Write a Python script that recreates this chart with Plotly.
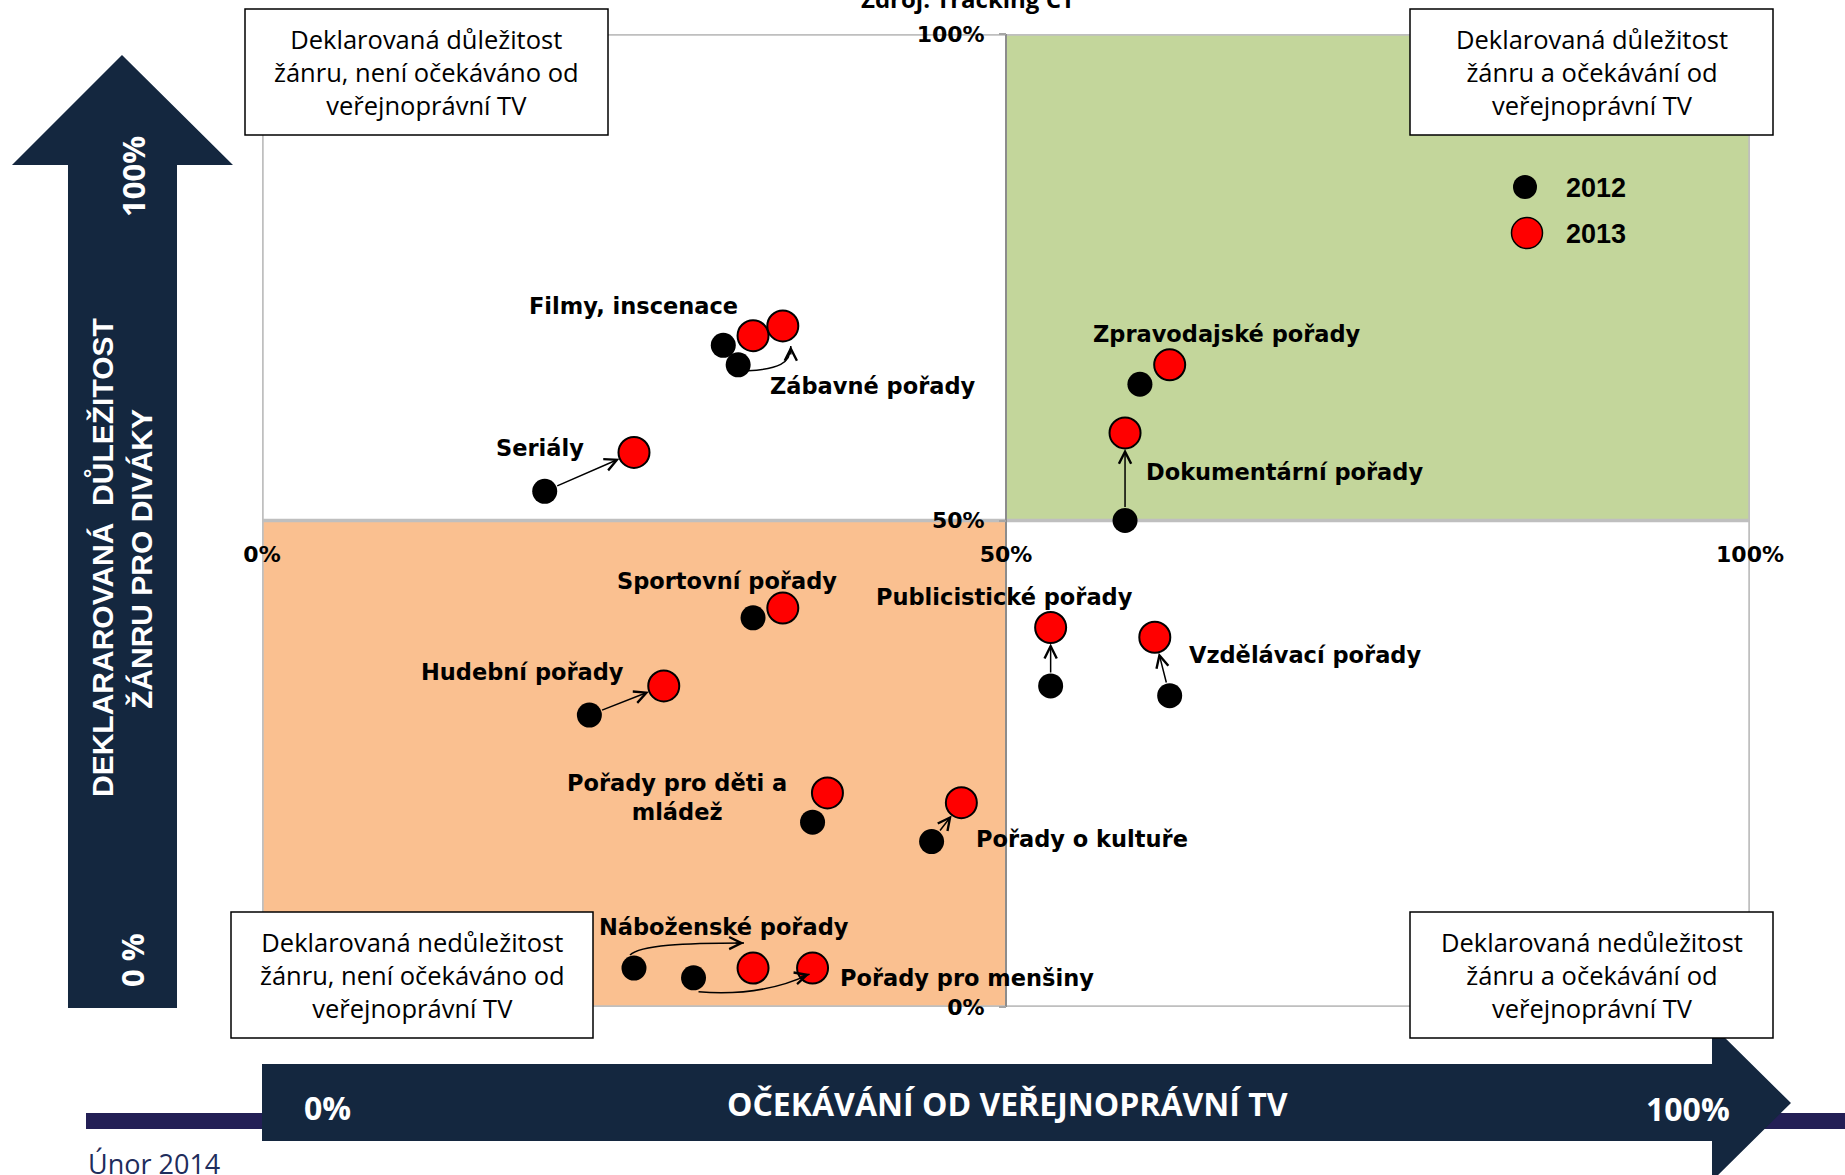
import plotly.graph_objects as go

# ---------------- data ----------------
categories = ["Filmy, inscenace", "Zábavné pořady", "Seriály", "Zpravodajské pořady",
              "Dokumentární pořady", "Sportovní pořady", "Hudební pořady",
              "Publicistické pořady", "Vzdělávací pořady", "Pořady pro děti a<br>mládež",
              "Pořady o kultuře", "Náboženské pořady", "Pořady pro menšiny"]
x_2012 = [31, 32, 19, 59, 58, 33, 22, 53, 61, 37, 45, 25, 29]
y_2012 = [68, 66, 53, 64, 50, 40, 30, 33, 32, 19, 17, 4, 3]
x_2013 = [33, 35, 25, 61, 58, 35, 27, 53, 60, 38, 47, 33, 37]
y_2013 = [69, 70, 57, 66, 59, 41, 33, 39, 38, 22, 21, 4, 4]
years = ["2012", "2013"]
tick_vals = [0, 50, 100]
tick_text = ["0%", "50%", "100%"]

# ---------------- styling / layout helpers ----------------
arrow_kind = ["none", "curve", "straight", "none", "straight", "none", "straight",
              "straight", "straight", "none", "straight", "curve", "curve"]
# label offsets in pixels relative to the 2013 marker (dx right, dy up)
label_dx = [-120, 90, -94, 57, 159, -56, -141, -46, 150, -150, 121, -29, 154]
label_dy = [30, -60, 4, 31, -39, 27, 14, 31, -18, -5, -36, 41, -10]
# curved connectors: start offset (from 2012 pt), c1 offset (from start), c2 offset (from end),
# end offset (from 2013 pt), arrow tail offset (px)   -- all px, y downwards
curve_spec = {
    1: ((10, 6), (30, -2), (0, 18), (8, 20), (0, 10)),
    11: ((-4, -13), (10, -10), (-60, 0), (-9, -25), (-10, 0)),
    12: ((5, 14), (50, 4), (-25, 12), (-3, 6), (-10, 3)),
}

W, H = 1845, 1175
ML, MR, MT, MB = 262, 95, 34, 168
PW, PH = W - ML - MR, H - MT - MB

NAVY = "#14273F"
LABEL_FONT = "DejaVu Sans"
BOX_FONT = "Open Sans"


def paper_x(px):
    return (px - ML) / PW


def paper_y(py):
    return (H - MB - py) / PH


def ux(px):
    return px * 100.0 / PW


def uy(py):
    return -py * 100.0 / PH


def poly(points):
    return "M" + " L".join(f"{paper_x(a):.5f},{paper_y(b):.5f}" for a, b in points) + " Z"


def ptext(cx, cy, text, size, color, family=BOX_FONT, angle=0, xanchor="center"):
    return dict(xref="paper", yref="paper", x=paper_x(cx), y=paper_y(cy), text=text,
                showarrow=False, xanchor=xanchor, yanchor="middle", align="center",
                textangle=angle, font=dict(family=family, size=size, color=color))


fig = go.Figure()

fig.add_trace(go.Scatter(x=x_2012, y=y_2012, mode="markers", name=years[0],
                         marker=dict(size=25, color="black"),
                         hoverinfo="skip", cliponaxis=False, showlegend=False))
fig.add_trace(go.Scatter(x=x_2013, y=y_2013, mode="markers", name=years[1],
                         marker=dict(size=31, color="#FF0000", line=dict(color="black", width=2)),
                         hoverinfo="skip", cliponaxis=False, showlegend=False))

shapes = []
# quadrant backgrounds
shapes.append(dict(type="rect", xref="x", yref="y", x0=50, x1=100, y0=50, y1=100,
                   fillcolor="#C3D69B", line=dict(width=0), layer="below"))
shapes.append(dict(type="rect", xref="x", yref="y", x0=0, x1=50, y0=0, y1=50,
                   fillcolor="#FAC090", line=dict(width=0), layer="below"))
# frame and cross lines
shapes.append(dict(type="rect", xref="x", yref="y", x0=0, x1=100, y0=0, y1=100,
                   line=dict(color="#BFBFBF", width=3.5), layer="below"))
shapes.append(dict(type="line", xref="x", yref="y", x0=0, x1=100, y0=50, y1=50,
                   line=dict(color="#BFBFBF", width=3.5), layer="below"))
shapes.append(dict(type="line", xref="x", yref="y", x0=50, x1=50, y0=0, y1=100,
                   line=dict(color="#8C8C8C", width=2), layer="below"))

# bottom strip and arrows
shapes.append(dict(type="rect", xref="paper", yref="paper",
                   x0=paper_x(86), x1=paper_x(1845), y0=paper_y(1129), y1=paper_y(1113),
                   fillcolor="#231F55", line=dict(width=0), layer="above"))
shapes.append(dict(type="path", xref="paper", yref="paper",
                   path=poly([(262, 1064), (1712, 1064), (1712, 1025), (1791, 1103),
                              (1712, 1181), (1712, 1141), (262, 1141)]),
                   fillcolor=NAVY, line=dict(width=0), layer="above"))
shapes.append(dict(type="path", xref="paper", yref="paper",
                   path=poly([(122, 55), (233, 165), (177, 165), (177, 1008),
                              (68, 1008), (68, 165), (12, 165)]),
                   fillcolor=NAVY, line=dict(width=0), layer="above"))

# quadrant description boxes
boxes = [
    ((245, 9, 608, 135), "Deklarovaná důležitost<br>žánru, není očekáváno od<br>veřejnoprávní TV"),
    ((1410, 9, 1773, 135), "Deklarovaná důležitost<br>žánru a očekávání od<br>veřejnoprávní TV"),
    ((231, 912, 593, 1038), "Deklarovaná nedůležitost<br>žánru, není očekáváno od<br>veřejnoprávní TV"),
    ((1410, 912, 1773, 1038), "Deklarovaná nedůležitost<br>žánru a očekávání od<br>veřejnoprávní TV"),
]
annotations = []
for (x0, y0, x1, y1), txt in boxes:
    shapes.append(dict(type="rect", xref="paper", yref="paper",
                       x0=paper_x(x0), x1=paper_x(x1), y0=paper_y(y1), y1=paper_y(y0),
                       fillcolor="white", line=dict(color="black", width=1.5), layer="above"))
    annotations.append(ptext((x0 + x1) / 2, (y0 + y1) / 2, txt, 25.5, "black"))

# legend (drawn manually)
leg = [(1525, 187, 12, "black", 0), (1527, 233, 15.5, "#FF0000", 1.5)]
for (cx, cy, r, col, lw), name in zip(leg, years):
    shapes.append(dict(type="circle", xref="paper", yref="paper",
                       x0=paper_x(cx - r), x1=paper_x(cx + r), y0=paper_y(cy + r), y1=paper_y(cy - r),
                       fillcolor=col, line=dict(color="black", width=lw), layer="above"))
    annotations.append(ptext(1564, cy + 1, f"<b>{name}</b>", 27, "black",
                             family="Liberation Sans", xanchor="left"))

# connectors between years
for i, kind in enumerate(arrow_kind):
    if kind == "straight":
        annotations.append(dict(xref="x", yref="y", x=x_2013[i], y=y_2013[i],
                                axref="x", ayref="y", ax=x_2012[i], ay=y_2012[i],
                                text="", showarrow=True, arrowhead=5, arrowsize=1.6,
                                arrowwidth=1.5, arrowcolor="black", standoff=16, startstandoff=12))
    elif kind == "curve":
        so, c1o, c2o, eo, tail = curve_spec[i]
        sx, sy = x_2012[i] + ux(so[0]), y_2012[i] + uy(so[1])
        ex, ey = x_2013[i] + ux(eo[0]), y_2013[i] + uy(eo[1])
        c1x, c1y = sx + ux(c1o[0]), sy + uy(c1o[1])
        c2x, c2y = ex + ux(c2o[0]), ey + uy(c2o[1])
        shapes.append(dict(type="path", xref="x", yref="y",
                           path=f"M{sx:.4f},{sy:.4f} C{c1x:.4f},{c1y:.4f} {c2x:.4f},{c2y:.4f} {ex:.4f},{ey:.4f}",
                           line=dict(color="black", width=1.5), layer="above"))
        annotations.append(dict(xref="x", yref="y", x=ex, y=ey, ax=tail[0], ay=tail[1],
                                text="", showarrow=True, arrowhead=5, arrowsize=1.6,
                                arrowwidth=1.5, arrowcolor="black", standoff=0))

# category labels
for i, cat in enumerate(categories):
    annotations.append(dict(xref="x", yref="y", x=x_2013[i], y=y_2013[i],
                            xshift=label_dx[i], yshift=label_dy[i],
                            text=f"<b>{cat}</b>", showarrow=False, align="center",
                            xanchor="center", yanchor="middle",
                            font=dict(family=LABEL_FONT, size=22.5, color="black")))

# arrow texts
annotations.append(ptext(102, 558, "<b>DEKLARAROVANÁ \u00a0DŮLEŽITOST</b>", 30, "white",
                         family="Liberation Sans", angle=-90))
annotations.append(ptext(141, 559, "<b>ŽÁNRU PRO DIVÁKY</b>", 30, "white",
                         family="Liberation Sans", angle=-90))
annotations.append(ptext(133, 177, "<b>100%</b>", 31, "white", angle=-90))
annotations.append(ptext(132, 960, "<b>0 %</b>", 31, "white", angle=-90))
annotations.append(ptext(327, 1107, "<b>0%</b>", 32, "white"))
annotations.append(ptext(1007, 1103, "<b>OČEKÁVÁNÍ OD VEŘEJNOPRÁVNÍ TV</b>", 32, "white"))
annotations.append(ptext(1688, 1108, "<b>100%</b>", 32, "white"))
annotations.append(ptext(86, 1163, "Únor 2014", 27, "#1F2D5C", xanchor="left"))
annotations.append(ptext(968, -1.5, "<b>Zdroj: Tracking ČT</b>", 24, "black"))

fig.update_layout(
    template="none",
    width=W, height=H,
    margin=dict(l=ML, r=MR, t=MT, b=MB, pad=0),
    paper_bgcolor="white", plot_bgcolor="white",
    showlegend=False,
    shapes=shapes,
    annotations=annotations,
    xaxis=dict(range=[0, 100], tickvals=tick_vals, ticktext=[f"<b>{t}</b>" for t in tick_text],
               showgrid=False, zeroline=False, showline=False, ticks="",
               anchor="free", position=0.5, automargin=False, ticklabelstandoff=18,
               tickfont=dict(family=LABEL_FONT, size=22, color="black"), fixedrange=True),
    yaxis=dict(range=[0, 100], tickvals=tick_vals, ticktext=[f"<b>{t}</b>" for t in tick_text],
               showgrid=False, zeroline=False, showline=False, ticks="outside", ticklen=7,
               tickwidth=2, tickcolor="#A6A6A6",
               anchor="free", position=0.5, automargin=False, ticklabelstandoff=10,
               tickfont=dict(family=LABEL_FONT, size=22, color="black"), fixedrange=True),
)

fig.write_html("out.html", config={"displayModeBar": False},
               post_script="document.body.style.margin='0';document.body.style.overflow='hidden';")
